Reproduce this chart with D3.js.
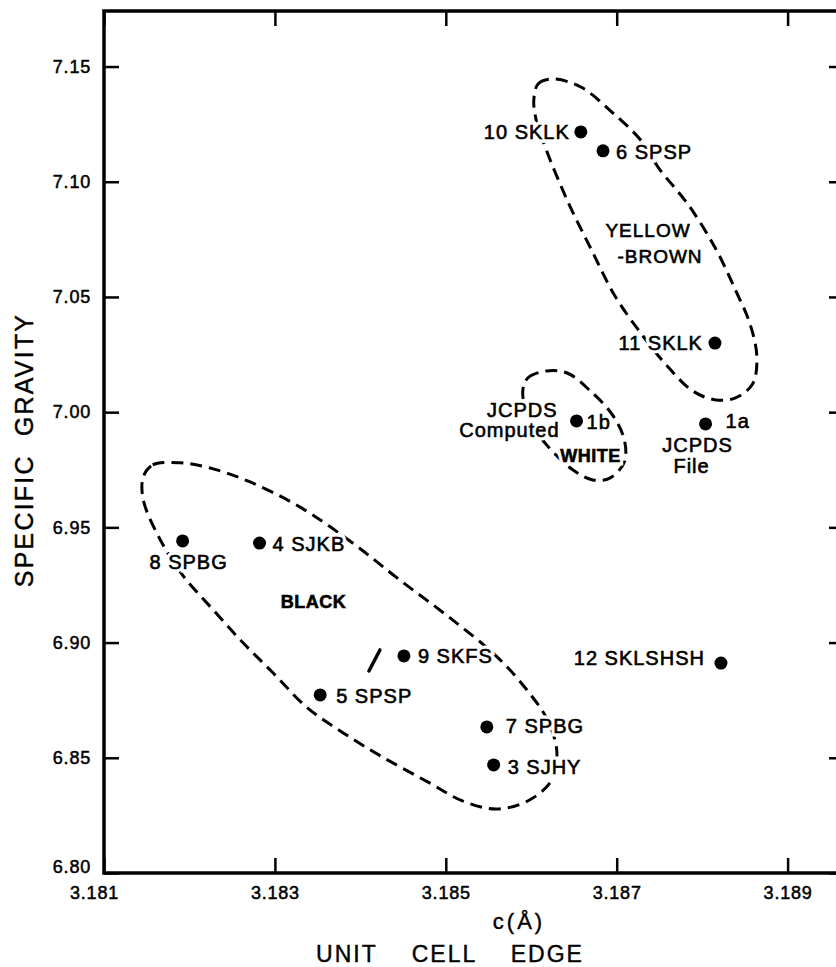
<!DOCTYPE html>
<html>
<head>
<meta charset="utf-8">
<script src="https://cdn.jsdelivr.net/npm/d3@7"></script>
<style>
  body { margin: 0; background: #fff; }
  text { font-family: "Liberation Sans", Arial, sans-serif; fill: #000; }
</style>
</head>
<body>
<div id="container"></div>
<script>
// samples: unit cell edge c (Å) vs specific gravity
var sampleNames = ["10 SKLK", "6 SPSP", "11 SKLK", "1b", "1a", "8 SPBG", "4 SJKB",
                   "9 SKFS", "5 SPSP", "7 SPBG", "3 SJHY", "12 SKLSHSH"];
var cellEdge = [3.18658, 3.18684, 3.18815, 3.18653, 3.18804, 3.18192, 3.18282,
                3.18451, 3.18353, 3.18548, 3.18556, 3.18822];
var specificGravity = [7.1216, 7.1134, 7.0300, 6.9962, 6.9949, 6.9441, 6.9432,
                       6.8942, 6.8773, 6.8634, 6.8469, 6.8911];

var xTicks = [3.181, 3.183, 3.185, 3.187, 3.189];
var yTicks = [6.80, 6.85, 6.90, 6.95, 7.00, 7.05, 7.10, 7.15];

// dashed group outlines, traced as [c, specific gravity]
var blackOutline = [[3.18146, 6.9719], [3.18157, 6.9771], [3.18189, 6.9780], [3.18224, 6.9758],
  [3.18271, 6.9697], [3.18329, 6.9589], [3.18391, 6.9432], [3.18446, 6.9272], [3.18505, 6.9107],
  [3.18560, 6.8938], [3.18595, 6.8794], [3.18619, 6.8664], [3.18630, 6.8525], [3.18624, 6.8404],
  [3.18598, 6.8317], [3.18560, 6.8278], [3.18520, 6.8312], [3.18481, 6.8391], [3.18426, 6.8503],
  [3.18380, 6.8608], [3.18337, 6.8720], [3.18298, 6.8868], [3.18263, 6.8998], [3.18228, 6.9141],
  [3.18192, 6.9293], [3.18166, 6.9445], [3.18146, 6.9619]];
var yellowOutline = [[3.18603, 7.1355], [3.18608, 7.1424], [3.18625, 7.1446], [3.18658, 7.1411],
  [3.18693, 7.1307], [3.18729, 7.1177], [3.18749, 7.1060], [3.18784, 7.0899], [3.18816, 7.0708],
  [3.18839, 7.0530], [3.18856, 7.0383], [3.18864, 7.0240], [3.18859, 7.0122], [3.18839, 7.0062],
  [3.18816, 7.0053], [3.18789, 7.0092], [3.18757, 7.0209], [3.18729, 7.0339], [3.18698, 7.0504],
  [3.18670, 7.0708], [3.18643, 7.0912], [3.18618, 7.1134], [3.18606, 7.1264]];
var whiteOutline = [[3.18590, 7.0088], [3.18596, 7.0148], [3.18618, 7.0179], [3.18642, 7.0170],
  [3.18668, 7.0096], [3.18695, 6.9988], [3.18709, 6.9879], [3.18709, 6.9784], [3.18692, 6.9714],
  [3.18672, 6.9706], [3.18649, 6.9749], [3.18618, 6.9858], [3.18598, 6.9966]];

// label placement (pixels, relative to the point)
var labelPlace = {
  "10 SKLK":    { anchor: "end",    dx: -11, dy: 7 },
  "6 SPSP":     { anchor: "start",  dx: 13,  dy: 8 },
  "11 SKLK":    { anchor: "end",    dx: -12, dy: 7 },
  "1b":         { anchor: "start",  dx: 10,  dy: 8 },
  "1a":         { anchor: "start",  dx: 20,  dy: 4 },
  "8 SPBG":     { anchor: "middle", dx: 6,   dy: 28 },
  "4 SJKB":     { anchor: "start",  dx: 13,  dy: 8 },
  "9 SKFS":     { anchor: "start",  dx: 14,  dy: 7 },
  "5 SPSP":     { anchor: "start",  dx: 16,  dy: 8 },
  "7 SPBG":     { anchor: "start",  dx: 19,  dy: 6 },
  "3 SJHY":     { anchor: "start",  dx: 14,  dy: 9 },
  "12 SKLSHSH": { anchor: "end",    dx: -16, dy: 2 }
};

var notes = [
  { text: "YELLOW",   ref: "6 SPSP", dx: 45,  dy: 86,  anchor: "middle", size: 19 },
  { text: "-BROWN",   ref: "6 SPSP", dx: 57,  dy: 112, anchor: "middle", size: 19 },
  { text: "WHITE",    ref: "1b",     dx: 14,  dy: 41,  anchor: "middle", size: 18, bold: true },
  { text: "BLACK",    ref: "4 SJKB", dx: 54,  dy: 65,  anchor: "middle", size: 18, bold: true },
  { text: "JCPDS",    ref: "1b",     dx: -19, dy: -4,  anchor: "end",    size: 20 },
  { text: "Computed", ref: "1b",     dx: -17, dy: 16,  anchor: "end",    size: 20 },
  { text: "JCPDS",    ref: "1a",     dx: -8,  dy: 28,  anchor: "middle", size: 20 },
  { text: "File",     ref: "1a",     dx: -14, dy: 49,  anchor: "middle", size: 20 }
];

var width = 836, height = 967;
var frame = { left: 104, top: 11, bottom: 873, right: 844 };

var x = d3.scaleLinear().domain([3.181, 3.18966]).range([frame.left, frame.right]);
var y = d3.scaleLinear().domain([6.80, 7.1741]).range([frame.bottom, frame.top]);

var svg = d3.select("#container").append("svg")
            .attr("width", width)
            .attr("height", height);

// axes, ticks pointing inward
var axes = svg.append("g").attr("class", "axes");
axes.append("g").attr("transform", "translate(0," + frame.bottom + ")")
    .call(d3.axisBottom(x).tickValues(xTicks).tickSize(-15).tickPadding(13).tickFormat(d3.format(".3f")));
axes.append("g").attr("transform", "translate(0," + frame.top + ")")
    .call(d3.axisTop(x).tickValues(xTicks).tickSize(-15).tickFormat(""));
axes.append("g").attr("transform", "translate(" + frame.left + ",0)")
    .call(d3.axisLeft(y).tickValues(yTicks).tickSize(-15).tickPadding(13).tickFormat(d3.format(".2f")));
axes.append("g").attr("transform", "translate(" + frame.right + ",0)")
    .call(d3.axisRight(y).tickValues(yTicks).tickSize(-15).tickFormat(""));

axes.selectAll(".domain").remove();
axes.selectAll(".tick line").attr("stroke", "#000").attr("stroke-width", 2.5);
axes.selectAll(".tick text")
    .attr("fill", "#000")
    .attr("stroke", "#000")
    .attr("stroke-width", 0.5)
    .style("font-size", "18px")
    .style("letter-spacing", "0.8px")
    .style("font-family", '"Liberation Sans", Arial, sans-serif');
axes.selectAll(".tick text").filter(function (d) { return d === 3.181; }).attr("dx", -10);
axes.selectAll(".tick text").filter(function (d) { return d === 6.80; }).attr("dy", "-0.05em");

svg.append("path")
   .attr("d", "M" + frame.right + "," + frame.top + "H" + frame.left + "V" + frame.bottom + "H" + frame.right)
   .attr("fill", "none")
   .attr("stroke", "#000")
   .attr("stroke-width", 3.5);

// group outlines
var outline = d3.line()
                .x(function (d) { return x(d[0]); })
                .y(function (d) { return y(d[1]); })
                .curve(d3.curveCatmullRomClosed);

svg.selectAll("path.group")
   .data([blackOutline, yellowOutline, whiteOutline])
   .enter()
   .append("path")
   .attr("class", "group")
   .attr("d", outline)
   .attr("fill", "none")
   .attr("stroke", "#000")
   .attr("stroke-width", 3)
   .attr("stroke-dasharray", "12,7");

var points = sampleNames.map(function (name, i) {
  return { name: name, c: cellEdge[i], sg: specificGravity[i] };
});
var byName = {};
points.forEach(function (p) { byName[p.name] = p; });

// small stray stroke beside 9 SKFS
var p9 = byName["9 SKFS"];
svg.append("path")
   .attr("d", "M" + (x(p9.c) - 24) + "," + (y(p9.sg) - 6) + "L" + (x(p9.c) - 35) + "," + (y(p9.sg) + 15))
   .attr("stroke", "#000")
   .attr("stroke-width", 3.5)
   .attr("stroke-linecap", "round");

function paint(sel, halo) {
  if (halo) sel.attr("stroke", "#fff").attr("stroke-width", 7).style("fill", "#fff");
  else sel.attr("stroke", "#000").attr("stroke-width", 0.6);
}

function placeLabels(sel, halo) {
  sel.text(function (d) { return d.name; })
     .attr("x", function (d) { return x(d.c) + labelPlace[d.name].dx; })
     .attr("y", function (d) { return y(d.sg) + labelPlace[d.name].dy; })
     .attr("text-anchor", function (d) { return labelPlace[d.name].anchor; })
     .style("font-size", "20px")
     .style("letter-spacing", "1px");
  paint(sel, halo);
}

function placeNotes(sel, halo) {
  sel.text(function (d) { return d.text; })
     .attr("x", function (d) { return x(byName[d.ref].c) + d.dx; })
     .attr("y", function (d) { return y(byName[d.ref].sg) + d.dy; })
     .attr("text-anchor", function (d) { return d.anchor; })
     .style("font-size", function (d) { return d.size + "px"; })
     .style("font-weight", function (d) { return d.bold ? "bold" : "normal"; })
     .style("letter-spacing", function (d) { return d.bold ? "0.5px" : "1px"; });
  paint(sel, halo);
}

// white halos first so dashes break around the lettering
svg.append("g").selectAll("text").data(points).enter().append("text").call(placeLabels, true);
svg.append("g").selectAll("text").data(notes).enter().append("text").call(placeNotes, true);
svg.append("g").selectAll("text").data(points).enter().append("text").call(placeLabels, false);
svg.append("g").selectAll("text").data(notes).enter().append("text").call(placeNotes, false);

svg.append("g").selectAll("circle")
   .data(points)
   .enter()
   .append("circle")
   .attr("cx", function (d) { return x(d.c); })
   .attr("cy", function (d) { return y(d.sg); })
   .attr("r", 6.5)
   .attr("fill", "#000");

// axis titles
svg.append("text")
   .attr("transform", "translate(33,450) rotate(-90)")
   .attr("text-anchor", "middle")
   .attr("stroke", "#000")
   .attr("stroke-width", 0.4)
   .style("font-size", "25px")
   .style("letter-spacing", "2.2px")
   .style("white-space", "pre")
   .text("SPECIFIC  GRAVITY");

svg.append("text")
   .attr("x", 519)
   .attr("y", 929)
   .attr("text-anchor", "middle")
   .attr("stroke", "#000")
   .attr("stroke-width", 0.4)
   .style("font-size", "22px")
   .style("letter-spacing", "3px")
   .text("c(Å)");

svg.append("text")
   .attr("x", 450)
   .attr("y", 962)
   .attr("text-anchor", "middle")
   .attr("stroke", "#000")
   .attr("stroke-width", 0.4)
   .style("font-size", "23px")
   .style("letter-spacing", "2px")
   .style("word-spacing", "26px")
   .text("UNIT CELL EDGE");
</script>
</body>
</html>
